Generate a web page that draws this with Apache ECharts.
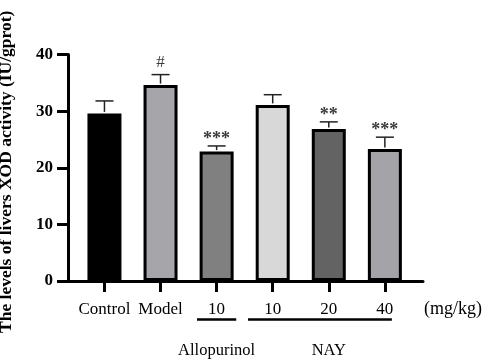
<!DOCTYPE html>
<html>
<head>
<meta charset="utf-8">
<script src="https://cdn.jsdelivr.net/npm/echarts@6/dist/echarts.min.js"></script>
<style>html,body{margin:0;padding:0;background:#fff;}#c{width:484px;height:362px;}</style>
</head>
<body>
<div id="c"></div>
<script>
var categories = ['Control', 'Model', '10', '10', '20', '40'];
var means = [29.6, 34.6, 22.85, 31.1, 26.85, 23.3];
var errUpper = [31.8, 36.45, 23.85, 32.9, 28.1, 25.4];
var marks = ['', '#', '***', '', '**', '***'];
var yTicks = [0, 10, 20, 30, 40];
var groups = [
  {name: 'Allopurinol', from: 2, to: 2},
  {name: 'NAY', from: 3, to: 5}
];
var unitLabel = '(mg/kg)';
var yTitle = 'The levels of livers XOD activity (IU/gprot)';

var colors = ['#000000', '#a6a5aa', '#808080', '#d8d8d8', '#636363', '#a4a4a8'];
var serif = '"Liberation Serif", "Times New Roman", serif';
var idx = categories.map(function (_, i) { return i; });

var chart = echarts.init(document.getElementById('c'));
var option = {
  animation: false,
  backgroundColor: '#fff',
  grid: {left: 68, right: 61, top: 54.5, bottom: 81, containLabel: false, outerBoundsMode: 'none'},
  xAxis: {
    type: 'value', min: -0.65, max: 5.68,
    splitLine: {show: false},
    axisLine: {show: true, onZero: false, lineStyle: {color: '#000', width: 3}},
    axisTick: {show: true, customValues: idx, length: 11, lineStyle: {color: '#000', width: 3}},
    axisLabel: {
      customValues: idx, margin: 20,
      formatter: function (v) { return categories[Math.round(v)]; },
      color: '#000', fontFamily: serif, fontSize: 17
    }
  },
  yAxis: {
    type: 'value', min: yTicks[0], max: yTicks[yTicks.length - 1], interval: 10,
    name: yTitle, nameLocation: 'middle', nameGap: 53,
    nameTextStyle: {color: '#000', fontFamily: serif, fontWeight: 'bold', fontSize: 17.5, padding: [0, 8, 0, 0]},
    splitLine: {show: false},
    axisLine: {show: true, onZero: false, lineStyle: {color: '#000', width: 3}},
    axisTick: {show: true, length: 11, lineStyle: {color: '#000', width: 3}},
    axisLabel: {margin: 15, color: '#000', fontFamily: serif, fontWeight: 'bold', fontSize: 17}
  },
  series: [
    {
      type: 'bar', barWidth: 34,
      data: means.map(function (v, i) {
        return {value: [i, v], itemStyle: {color: colors[i]}};
      }),
      itemStyle: {borderColor: '#000', borderWidth: 3},
      z: 2
    },
    {
      type: 'custom',
      data: means.map(function (v, i) { return [i, v, errUpper[i]]; }),
      renderItem: function (params, api) {
        var i = api.value(0);
        var base = api.coord([i, api.value(1)]);
        var top = api.coord([i, api.value(2)]);
        var hw = 9;
        var children = [
          {type: 'line', shape: {x1: base[0], y1: base[1] - 1.5, x2: top[0], y2: top[1]}, style: {stroke: '#222', lineWidth: 1.5}},
          {type: 'line', shape: {x1: top[0] - hw, y1: top[1], x2: top[0] + hw, y2: top[1]}, style: {stroke: '#222', lineWidth: 1.5}}
        ];
        var m = marks[params.dataIndex];
        if (m) {
          var isHash = m === '#';
          children.push({type: 'text', x: top[0], y: top[1] - (isHash ? 4 : -2),
            style: {text: m, fill: '#3a3a3a', font: (isHash ? '17px ' : 'bold 18px ') + serif,
              textAlign: 'center', textVerticalAlign: 'bottom'}});
        }
        return {type: 'group', children: children};
      },
      z: 3
    }
  ]
};
chart.setOption(option);

function addAnnotations() {
  var els = [];
  var axisEnd = chart.convertToPixel({xAxisIndex: 0}, 5.68);
  var y0 = chart.convertToPixel({yAxisIndex: 0}, 0);
  els.push({type: 'text', left: axisEnd + 1, top: y0 + 19,
    style: {text: unitLabel, fill: '#000', font: '18px ' + serif}});
  groups.forEach(function (g) {
    var a, b, cx;
    if (g.from === g.to) {
      a = chart.convertToPixel({xAxisIndex: 0}, g.from - 0.35);
      b = chart.convertToPixel({xAxisIndex: 0}, g.to + 0.35);
      cx = chart.convertToPixel({xAxisIndex: 0}, g.from);
    } else {
      a = chart.convertToPixel({xAxisIndex: 0}, g.from - 0.44);
      b = chart.convertToPixel({xAxisIndex: 0}, g.to + 0.125);
      cx = chart.convertToPixel({xAxisIndex: 0}, (g.from + g.to) / 2);
    }
    var ly = y0 + 38.5;
    els.push({type: 'line', shape: {x1: a, y1: ly, x2: b, y2: ly}, style: {stroke: '#000', lineWidth: 2.5}});
    els.push({type: 'text', x: cx, y: y0 + 70,
      style: {text: g.name, fill: '#000', font: '16.5px ' + serif, textAlign: 'center', textVerticalAlign: 'middle'}});
  });
  chart.setOption({graphic: els});
}
addAnnotations();
</script>
</body>
</html>
